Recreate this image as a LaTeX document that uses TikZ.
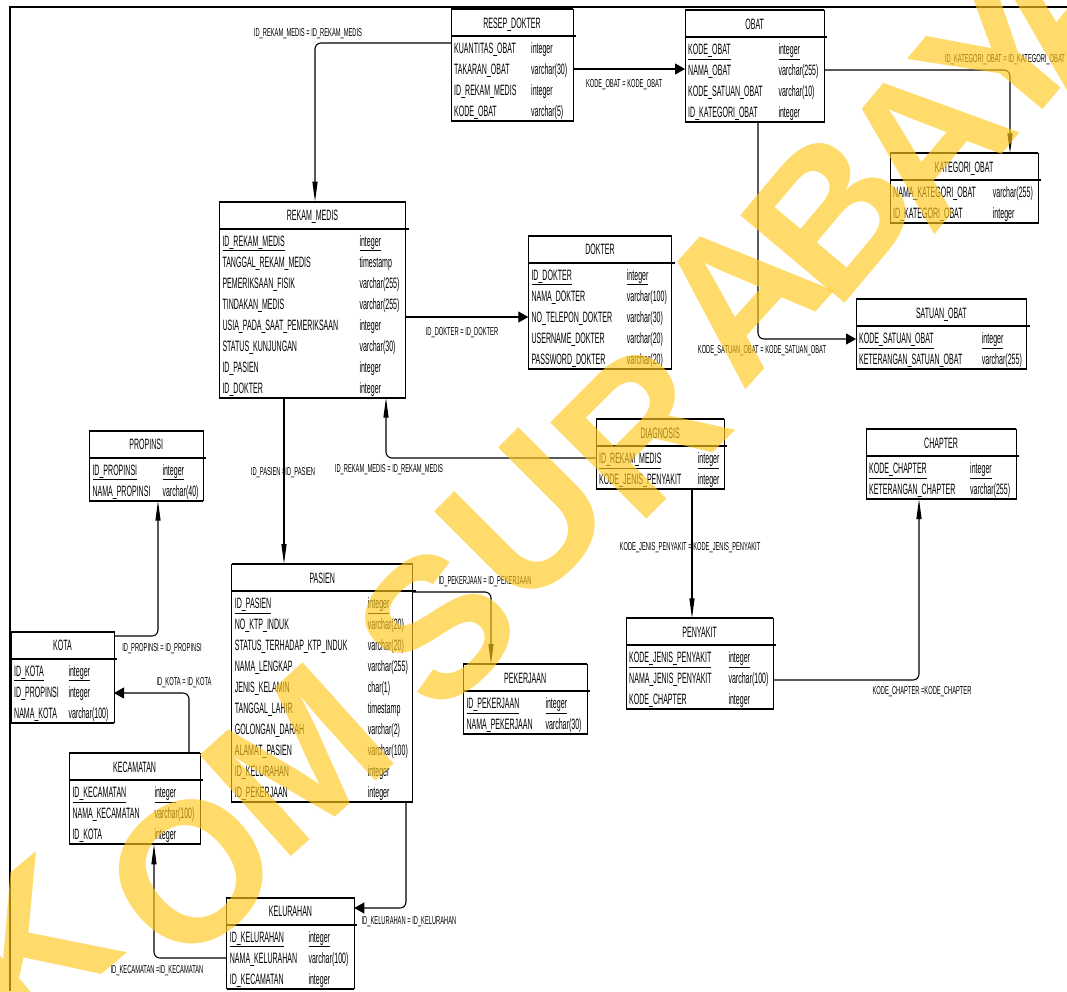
\documentclass[tikz,border=0pt]{standalone}
\usepackage{fontspec}
\setmainfont{Liberation Sans}
\newfontfamily\tabfont[FakeStretch=0.47]{Liberation Sans}
\newfontfamily\labfont[FakeStretch=0.5]{Liberation Sans}
\usetikzlibrary{arrows.meta,calc}
\definecolor{wmyellow}{RGB}{255,200,30}
\tikzset{
  tbox/.style={draw, line width=1pt, anchor=north west, inner sep=0pt, outer sep=0pt, fill=white},
  hline/.style={line width=1.7pt},
  ttl/.style={anchor=base, inner sep=0pt, font=\tabfont\fontsize{15}{15}\selectfont},
  rtxt/.style={anchor=base west, inner sep=0pt, font=\tabfont\fontsize{15}{15}\selectfont},
  lbl/.style={anchor=base, inner sep=0pt, font=\labfont\fontsize{11.5}{12}\selectfont},
  conn/.style={line width=1.1pt, rounded corners=6pt},
  varr/.style={-{Triangle[length=20pt,width=5pt]}},
  harr/.style={-{Triangle[length=10pt,width=11pt]}},
  wm/.style={text=wmyellow, text opacity=0.65, inner sep=0pt, font=\fontsize{198}{198}\selectfont\bfseries},
}
\newcommand\ertable[8]{%
  \pgfmathsetmacro\erh{28+21*#7}%
  \node[tbox, minimum width=#5pt, minimum height=\erh pt] (#1) at (#3,#4) {};
  \node[ttl] (#1-title) at ($(#1.north west)+(#5/2,19)$) {#2};
  \draw[hline] (#1.north west) -- (#1.north east);
  \draw[hline] (#1.south west) -- (#1.south east);
  \draw[hline] ($(#1.north west)+(0,27)$) -- ++(#5+3,0);
  \foreach \fa/\fb/\fu [count=\fk] in {#8} {
    \pgfmathsetmacro\fy{44.4+21*(\fk-1)}
    \node[rtxt] (#1-a\fk) at ($(#1.north west)+(3,\fy)$) {\ifnum\fu=1 \underline{\fa}\else\fa\fi};
    \node[rtxt] (#1-b\fk) at ($(#1.north west)+(#6,\fy)$) {\ifnum\fu=1 \underline{\fb}\else\fb\fi};
  }
}
\begin{document}
\begin{tikzpicture}[x=1pt,y=-1pt]
\useasboundingbox (0,0) rectangle (1067,991);
\fill[white] (0,0) rectangle (1067,991);
\draw[line width=2.2pt] (10,991) -- (10,7) -- (1067,7);

\ertable{resep}{RESEP\_DOKTER}{451}{9.3}{122}{80}{4}{KUANTITAS\_OBAT/integer/0, TAKARAN\_OBAT/varchar(30)/0, ID\_REKAM\_MEDIS/integer/0, KODE\_OBAT/varchar(5)/0}
\ertable{obat}{OBAT}{685}{10}{139.3}{93.3}{4}{KODE\_OBAT/integer/1, NAMA\_OBAT/varchar(255)/0, KODE\_SATUAN\_OBAT/varchar(10)/0, ID\_KATEGORI\_OBAT/integer/0}
\ertable{kategori}{KATEGORI\_OBAT}{890}{153.3}{148.3}{102.7}{2}{NAMA\_KATEGORI\_OBAT/varchar(255)/0, ID\_KATEGORI\_OBAT/integer/1}
\ertable{rekam}{REKAM\_MEDIS}{219.3}{201.7}{186.4}{140}{8}{ID\_REKAM\_MEDIS/integer/1, TANGGAL\_REKAM\_MEDIS/timestamp/0, PEMERIKSAAN\_FISIK/varchar(255)/0, TINDAKAN\_MEDIS/varchar(255)/0, USIA\_PADA\_SAAT\_PEMERIKSAAN/integer/0, STATUS\_KUNJUNGAN/varchar(30)/0, ID\_PASIEN/integer/0, ID\_DOKTER/integer/0}
\ertable{dokter}{DOKTER}{528.3}{235.7}{143.4}{98.4}{5}{ID\_DOKTER/integer/1, NAMA\_DOKTER/varchar(100)/0, NO\_TELEPON\_DOKTER/varchar(30)/0, USERNAME\_DOKTER/varchar(20)/0, PASSWORD\_DOKTER/varchar(20)/0}
\ertable{satuan}{SATUAN\_OBAT}{856}{299}{170.7}{125.7}{2}{KODE\_SATUAN\_OBAT/integer/1, KETERANGAN\_SATUAN\_OBAT/varchar(255)/0}
\ertable{propinsi}{PROPINSI}{89.3}{430.7}{114}{73}{2}{ID\_PROPINSI/integer/1, NAMA\_PROPINSI/varchar(40)/0}
\ertable{diagnosis}{DIAGNOSIS}{596}{419.3}{128.3}{101.7}{2}{ID\_REKAM\_MEDIS/integer/1, KODE\_JENIS\_PENYAKIT/integer/1}
\ertable{chapter}{CHAPTER}{866}{429}{150}{104}{2}{KODE\_CHAPTER/integer/1, KETERANGAN\_CHAPTER/varchar(255)/0}
\ertable{penyakit}{PENYAKIT}{626}{618.3}{147.3}{102.3}{3}{KODE\_JENIS\_PENYAKIT/integer/1, NAMA\_JENIS\_PENYAKIT/varchar(100)/0, KODE\_CHAPTER/integer/0}
\ertable{pasien}{PASIEN}{231.7}{564}{181}{136}{10}{ID\_PASIEN/integer/1, NO\_KTP\_INDUK/varchar(20)/0, STATUS\_TERHADAP\_KTP\_INDUK/varchar(20)/0, NAMA\_LENGKAP/varchar(255)/0, JENIS\_KELAMIN/char(1)/0, TANGGAL\_LAHIR/timestamp/0, GOLONGAN\_DARAH/varchar(2)/0, ALAMAT\_PASIEN/varchar(100)/0, ID\_KELURAHAN/integer/0, ID\_PEKERJAAN/integer/0}
\ertable{pekerjaan}{PEKERJAAN}{463.3}{664}{123.7}{82}{2}{ID\_PEKERJAAN/integer/1, NAMA\_PEKERJAAN/varchar(30)/0}
\ertable{kota}{KOTA}{11}{631.7}{103}{57.3}{3}{ID\_KOTA/integer/1, ID\_PROPINSI/integer/0, NAMA\_KOTA/varchar(100)/0}
\ertable{kecamatan}{KECAMATAN}{69.3}{753.3}{130.7}{85}{3}{ID\_KECAMATAN/integer/1, NAMA\_KECAMATAN/varchar(100)/0, ID\_KOTA/integer/0}
\ertable{kelurahan}{KELURAHAN}{226.7}{897.7}{127.6}{81.6}{3}{ID\_KELURAHAN/integer/1, NAMA\_KELURAHAN/varchar(100)/0, ID\_KECAMATAN/integer/0}

% connectors
\draw[conn,varr] (resep.west |- 0,43) -| (315,0 |- rekam.north);
\draw[conn,harr] (resep.east |- 0,69) -- (obat.west |- 0,69);
\draw[conn,varr] (obat.east |- 0,70) -| (1010,0 |- kategori.north);
\draw[conn,harr] (758,0 |- obat.south) |- (satuan.west |- 0,339);
\draw[conn,harr] (rekam.east |- 0,317) -- (dokter.west |- 0,317);
\draw[conn,varr] (284,0 |- rekam.south) -- (284,0 |- pasien.north);
\draw[conn,varr] (diagnosis.west |- 0,458) -| (386,0 |- rekam.south);
\draw[conn,varr] (692,0 |- diagnosis.south) -- (692,0 |- penyakit.north);
\draw[conn,varr] (pasien.east |- 0,592) -| (491,0 |- pekerjaan.north);
\draw[conn,varr] (penyakit.east |- 0,680) -| (919,0 |- chapter.south);
\draw[conn,varr] (kota.east |- 0,636) -| (158,0 |- propinsi.south);
\draw[conn,harr] (189,0 |- kecamatan.north) |- (kota.east |- 0,693);
\draw[conn,varr] (kelurahan.west |- 0,958) -| (154,0 |- kecamatan.south);
\draw[conn,harr] (406,0 |- pasien.south) |- (kelurahan.east |- 0,908);

% connector labels
\node[lbl] (l1) at (308,36) {ID\_REKAM\_MEDIS = ID\_REKAM\_MEDIS};
\node[lbl] (l2) at (624,87) {KODE\_OBAT = KODE\_OBAT};
\node[lbl] (l3) at (1005,62) {ID\_KATEGORI\_OBAT = ID\_KATEGORI\_OBAT};
\node[lbl] (l4) at (762,353) {KODE\_SATUAN\_OBAT = KODE\_SATUAN\_OBAT};
\node[lbl] (l5) at (462,335) {ID\_DOKTER = ID\_DOKTER};
\node[lbl] (l6) at (283,475) {ID\_PASIEN =ID\_PASIEN};
\node[lbl] (l7) at (389,472) {ID\_REKAM\_MEDIS = ID\_REKAM\_MEDIS};
\node[lbl] (l8) at (690,550) {KODE\_JENIS\_PENYAKIT = KODE\_JENIS\_PENYAKIT};
\node[lbl] (l9) at (485,584) {ID\_PEKERJAAN = ID\_PEKERJAAN};
\node[lbl] (l10) at (922,694) {KODE\_CHAPTER =KODE\_CHAPTER};
\node[lbl] (l11) at (162,651) {ID\_PROPINSI = ID\_PROPINSI};
\node[lbl] (l12) at (184,685) {ID\_KOTA = ID\_KOTA};
\node[lbl] (l13) at (157,973) {ID\_KECAMATAN =ID\_KECAMATAN};
\node[lbl] (l14) at (409,924) {ID\_KELURAHAN = ID\_KELURAHAN};

% watermark
\node[wm, rotate=40] (w1) at (30,945) {K};
\node[wm, rotate=40] (w2) at (192,872) {O};
\node[wm, rotate=42] (w3) at (297,760) {M};
\node[wm, rotate=45] (w4) at (437,627) {S};
\node[wm, rotate=45] (w5) at (526,518) {U};
\node[wm, rotate=45] (w6) at (640,430) {R};
\node[wm, rotate=48] (w7) at (740,295) {A};
\node[wm, rotate=50] (w8) at (830,215) {B};
\node[wm, rotate=50] (w9) at (925,140) {A};
\node[wm, rotate=50] (w10) at (1000,55) {Y};
\node[wm, rotate=50] (w11) at (1060,0) {A};
\end{tikzpicture}
\end{document}
